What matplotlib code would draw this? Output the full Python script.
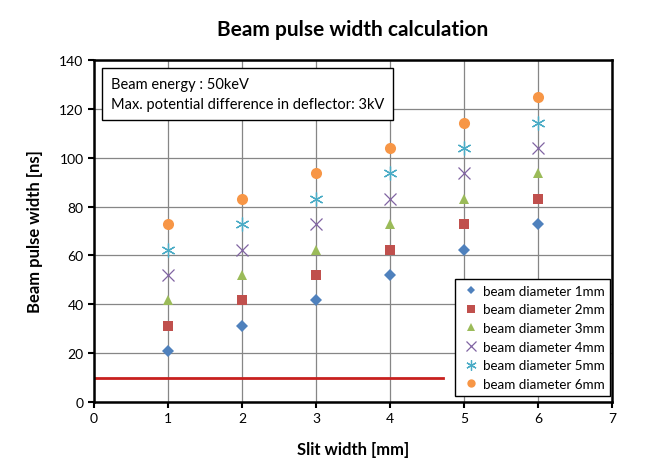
import matplotlib
matplotlib.use('Agg')
from matplotlib import pyplot as plt
from matplotlib import ticker

plt.rcParams['font.family'] = ['Lato', 'DejaVu Sans']

# data
slit_width = [1, 2, 3, 4, 5, 6]
d1mm = [20.8, 31.2, 41.6, 52.0, 62.4, 72.8]
d2mm = [31.2, 41.6, 52.0, 62.4, 72.8, 83.2]
d3mm = [41.6, 52.0, 62.4, 72.8, 83.2, 93.6]
d4mm = [52.0, 62.4, 72.8, 83.2, 93.6, 104.0]
d5mm = [62.4, 72.8, 83.2, 93.6, 104.0, 114.4]
d6mm = [72.8, 83.2, 93.6, 104.0, 114.4, 124.8]
limit_x = [0, 4.72]
limit_y = [10, 10]

series = [
    ('beam diameter 1mm', d1mm, 'D', '#4F81BD', 6),
    ('beam diameter 2mm', d2mm, 's', '#C0504D', 7),
    ('beam diameter 3mm', d3mm, '^', '#9BBB59', 7.5),
    ('beam diameter 4mm', d4mm, 'x', '#8064A2', 9),
    ('beam diameter 5mm', d5mm, (6, 2, 0), '#4BACC6', 10),
    ('beam diameter 6mm', d6mm, 'o', '#F79646', 8),
]

fig = plt.figure(figsize=(6.69, 4.77), dpi=100)
ax = fig.add_axes([0.1405, 0.1551, 0.7743, 0.717])

for label, values, marker, color, size in series:
    if marker in ('x', (6, 2, 0)):
        ax.plot(slit_width, values, linestyle='none', marker=marker,
                markersize=size, markeredgecolor=color, markeredgewidth=0.9,
                label=label, zorder=3)
    else:
        ax.plot(slit_width, values, linestyle='none', marker=marker,
                markersize=size, color=color, markeredgewidth=0,
                label=label, zorder=3)

ax.plot(limit_x, limit_y, color='#C8201E', linewidth=2, zorder=2)

ax.set_xlim(0, 7)
ax.set_ylim(0, 140)
ax.xaxis.set_major_locator(ticker.MultipleLocator(1))
ax.yaxis.set_major_locator(ticker.MultipleLocator(20))
ax.grid(True, color='#868686', linewidth=0.9)
ax.set_axisbelow(True)
for spine in ax.spines.values():
    spine.set_linewidth(1.8)
    spine.set_color('black')
ax.tick_params(direction='out', length=4, width=1.5, labelsize=10,
               colors='black')

ax.set_title('Beam pulse width calculation', fontsize=15, fontweight='bold',
             pad=18)
ax.set_xlabel('Slit width [mm]', fontsize=12, fontweight='bold', labelpad=12)
ax.set_ylabel('Beam pulse width [ns]', fontsize=12, fontweight='bold',
              labelpad=12)

ax.text(0.033, 0.95,
        'Beam energy : 50keV\nMax. potential difference in deflector: 3kV',
        transform=ax.transAxes, fontsize=10.5, va='top', ha='left',
        linespacing=1.55,
        bbox=dict(boxstyle='square,pad=0.6', facecolor='white',
                  edgecolor='black', linewidth=1))

leg = ax.legend(loc='lower right', bbox_to_anchor=(0.997, 0.018),
                borderaxespad=0, fontsize=9.6, frameon=True, fancybox=False,
                framealpha=1, edgecolor='black', handletextpad=0.15,
                handlelength=1.5, borderpad=0.45, labelspacing=0.5,
                markerscale=0.75)
leg.get_frame().set_linewidth(1)

fig.savefig('out.png', dpi=100)
